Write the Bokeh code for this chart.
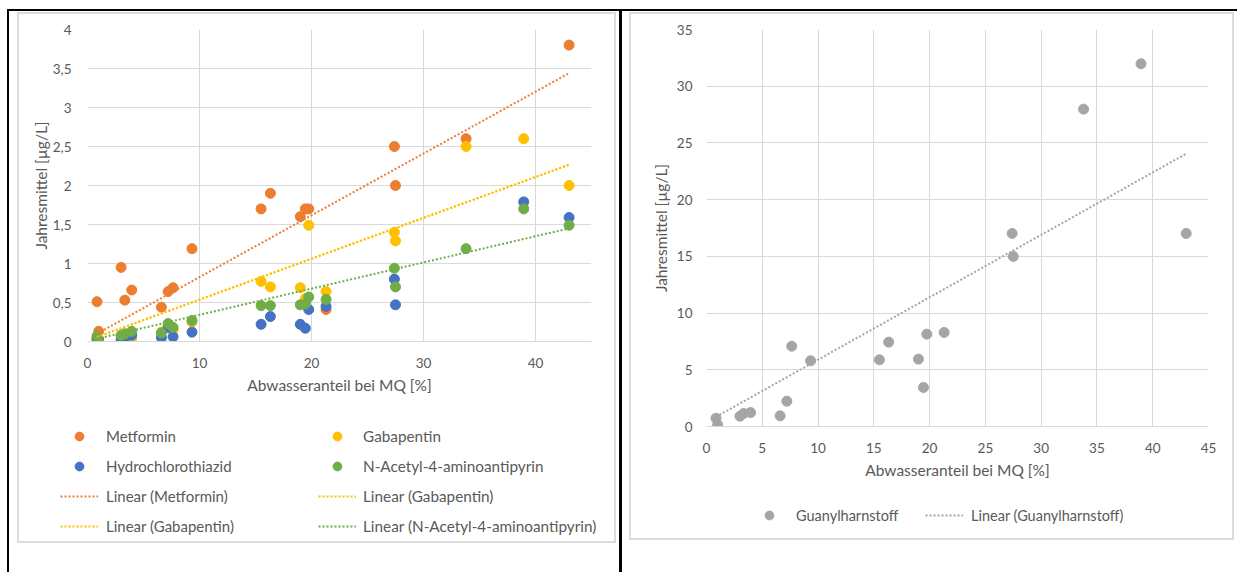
from bokeh.plotting import figure
from bokeh.layouts import row, column
from bokeh.models import (FixedTicker, Legend, LegendItem, Range1d, Spacer,
                          CustomJSTickFormatter)
from bokeh.embed import file_html
from bokeh.resources import INLINE

nan = float("nan")

# ---------------- data ----------------
abwasseranteil = [0.85, 1.0, 3.0, 3.33, 3.95, 6.6, 7.2, 7.64, 9.33, 15.5,
                  16.33, 19.0, 19.45, 19.75, 21.3, 27.4, 27.5, 33.8, 38.95, 43.0]
metformin = [0.51, 0.13, 0.95, 0.53, 0.66, 0.44, 0.64, 0.69, 1.19, 1.70,
             1.90, 1.60, 1.70, 1.70, 0.41, 2.50, 2.00, 2.60, nan, 3.80]
gabapentin = [0.05, 0.03, 0.07, 0.09, 0.04, 0.12, 0.20, 0.15, 0.25, 0.77,
              0.70, 0.69, 0.55, 1.49, 0.64, 1.40, 1.29, 2.50, 2.60, 2.00]
hydrochlorothiazid = [0.03, 0.02, 0.02, 0.05, 0.08, 0.05, 0.18, 0.06, 0.12, 0.22,
                      0.32, 0.22, 0.17, 0.41, 0.45, 0.80, 0.47, nan, 1.79, 1.59]
acetyl_aminoantipyrin = [0.07, 0.00, 0.08, 0.10, 0.13, 0.11, 0.23, 0.18, 0.27, 0.46,
                         0.46, 0.47, 0.48, 0.57, 0.54, 0.94, 0.70, 1.19, 1.70, 1.49]
guanylharnstoff = [0.73, 0.15, 0.91, 1.15, 1.23, 0.94, 2.23, 7.08, 5.79, 5.88,
                   7.44, 5.94, 3.44, 8.14, 8.29, 17.02, 14.99, 27.98, 31.98, 17.02]

# linear trend lines: y at the first and last x
trend_x = [min(abwasseranteil), max(abwasseranteil)]
metformin_trend = [0.10, 3.44]
gabapentin_trend = [0.057, 2.266]
acetyl_trend = [0.035, 1.45]
guanyl_trend = [0.85, 24.05]

left_x_ticks = [0, 10, 20, 30, 40]
left_y_ticks = [0, 0.5, 1, 1.5, 2, 2.5, 3, 3.5, 4]
right_x_ticks = [0, 5, 10, 15, 20, 25, 30, 35, 40, 45]
right_y_ticks = [0, 5, 10, 15, 20, 25, 30, 35]

x_title = "Abwasseranteil bei MQ [%]"
y_title = "Jahresmittel [µg/L]"

ORANGE = "#ED7D31"
YELLOW = "#FFC000"
BLUE = "#4472C4"
GREEN = "#70AD47"
GRAY = "#A5A5A5"
TXT = "#595959"
GRID = "#D9D9D9"
BORDER = "#DCDCDC"
FONT = "Lato"
DOT = "2 2"


def style(p, xticks, yticks, ylabel_standoff, ytick_standoff):
    p.background_fill_color = "white"
    p.border_fill_color = "white"
    p.outline_line_color = None
    p.xaxis.ticker = FixedTicker(ticks=xticks)
    p.yaxis.ticker = FixedTicker(ticks=yticks)
    for g in (p.xgrid, p.ygrid):
        g.grid_line_color = GRID
        g.grid_line_width = 1
    for ax in (p.xaxis, p.yaxis):
        ax.major_tick_line_color = None
        ax.minor_tick_line_color = None
        ax.major_tick_out = 0
        ax.major_tick_in = 0
        ax.major_label_text_color = TXT
        ax.major_label_text_font = FONT
        ax.major_label_text_font_size = "13.5px"
        ax.axis_label_text_color = TXT
        ax.axis_label_text_font = FONT
        ax.axis_label_text_font_size = "15.5px"
        ax.axis_label_text_font_style = "normal"
    p.xaxis.axis_line_color = GRID
    p.yaxis.axis_line_color = None
    p.xaxis.major_label_standoff = 16
    p.xaxis.axis_label_standoff = 5
    p.yaxis.major_label_standoff = ytick_standoff
    p.yaxis.axis_label_standoff = ylabel_standoff


def legend_figure(w, h):
    q = figure(width=w, height=h, x_range=Range1d(-1000, -999), y_range=Range1d(-1000, -999),
               output_backend="svg", toolbar_location=None,
               x_axis_type=None, y_axis_type=None,
               min_border_left=0, min_border_right=0, min_border_top=0, min_border_bottom=0)
    q.outline_line_color = None
    q.background_fill_color = "white"
    q.border_fill_color = "white"
    q.xgrid.visible = False
    q.ygrid.visible = False
    return q


def add_legend(q, items, x, y, standoff, size):
    q.add_layout(Legend(items=items, location=(x, y), orientation="vertical",
                        glyph_width=38, glyph_height=22, label_height=20,
                        label_standoff=standoff, spacing=8, padding=0, margin=0,
                        border_line_color=None, background_fill_alpha=0,
                        label_text_font=FONT, label_text_font_size=size,
                        label_text_color=TXT))


def fill(w, h, color):
    return Spacer(width=w, height=h, styles={"background-color": color})


def blank(w, h):
    return Spacer(width=w, height=h)


def framed(w, h, top, bottom):
    # light grey chart-area border around the chart and its legend strip
    return row(fill(2, h, BORDER),
               column(fill(w - 4, 2, BORDER), top, row(bottom, spacing=0),
                      fill(w - 4, 2, BORDER), spacing=0),
               fill(2, h, BORDER), spacing=0)


# ---------------- left chart ----------------
L = figure(width=595, height=390, x_range=Range1d(0, 45), y_range=Range1d(0, 4),
           output_backend="svg", toolbar_location=None,
           min_border_left=68, min_border_right=23, min_border_top=15, min_border_bottom=63,
           x_axis_label=x_title, y_axis_label=y_title)
style(L, left_x_ticks, left_y_ticks, 0, 16)
L.yaxis.formatter = CustomJSTickFormatter(code="return String(tick).replace('.', ',');")

L.scatter(abwasseranteil, metformin, size=10, color=ORANGE)
L.scatter(abwasseranteil, gabapentin, size=10, color=YELLOW)
L.scatter(abwasseranteil, hydrochlorothiazid, size=10, color=BLUE)
L.scatter(abwasseranteil, acetyl_aminoantipyrin, size=10, color=GREEN)
L.line(trend_x, metformin_trend, line_color=ORANGE, line_width=2, line_dash=DOT)
L.line(trend_x, gabapentin_trend, line_color=YELLOW, line_width=2, line_dash=DOT)
L.line(trend_x, gabapentin_trend, line_color=YELLOW, line_width=2, line_dash=DOT)
L.line(trend_x, acetyl_trend, line_color=GREEN, line_width=2, line_dash=DOT)

# legend strip of the left chart (keys repeat the series, kept out of view)
LL = legend_figure(595, 137)
k_met = LL.scatter(abwasseranteil, metformin, size=10, color=ORANGE)
k_gab = LL.scatter(abwasseranteil, gabapentin, size=10, color=YELLOW)
k_hyd = LL.scatter(abwasseranteil, hydrochlorothiazid, size=10, color=BLUE)
k_ace = LL.scatter(abwasseranteil, acetyl_aminoantipyrin, size=10, color=GREEN)
k_tmet = LL.line(trend_x, metformin_trend, line_color=ORANGE, line_width=2, line_dash=DOT)
k_tgab = LL.line(trend_x, gabapentin_trend, line_color=YELLOW, line_width=2, line_dash=DOT)
k_tace = LL.line(trend_x, acetyl_trend, line_color=GREEN, line_width=2, line_dash=DOT)
add_legend(LL, [LegendItem(label="Metformin", renderers=[k_met]),
                LegendItem(label="Hydrochlorothiazid", renderers=[k_hyd]),
                LegendItem(label="Linear (Metformin)", renderers=[k_tmet]),
                LegendItem(label="Linear (Gabapentin)", renderers=[k_tgab])], 41, 4, 8, "15px")
add_legend(LL, [LegendItem(label="Gabapentin", renderers=[k_gab]),
                LegendItem(label="N-Acetyl-4-aminoantipyrin", renderers=[k_ace]),
                LegendItem(label="Linear (Gabapentin)", renderers=[k_tgab]),
                LegendItem(label="Linear (N-Acetyl-4-aminoantipyrin)", renderers=[k_tace])],
           299, 4, 7, "15.3px")

# ---------------- right chart ----------------
R = figure(width=601, height=475, x_range=Range1d(0, 45), y_range=Range1d(0, 35),
           output_backend="svg", toolbar_location=None,
           min_border_left=75, min_border_right=24, min_border_top=15, min_border_bottom=63,
           x_axis_label=x_title, y_axis_label=y_title)
style(R, right_x_ticks, right_y_ticks, 4, 14)

R.scatter(abwasseranteil, guanylharnstoff, size=10, color=GRAY)
R.line(trend_x, guanyl_trend, line_color=GRAY, line_width=2, line_dash=DOT)

RL = legend_figure(601, 49)
k_gua = RL.scatter(abwasseranteil, guanylharnstoff, size=10, color=GRAY)
k_tgua = RL.line(trend_x, guanyl_trend, line_color=GRAY, line_width=2, line_dash=DOT)
add_legend(RL, [LegendItem(label="Guanylharnstoff", renderers=[k_gua])], 119, 12, 8, "14.5px")
add_legend(RL, [LegendItem(label="Linear (Guanylharnstoff)", renderers=[k_tgua])], 294, 12, 8, "14.5px")

# ---------------- page frame ----------------
inner = row(
    blank(8, 561),
    column(blank(599, 1), framed(599, 531, L, LL), spacing=0),
    blank(3, 561),
    fill(3, 561, "black"),
    blank(7, 561),
    column(blank(605, 1), framed(605, 528, R, RL), spacing=0),
    spacing=0,
)
page = column(
    blank(1237, 9),
    row(blank(7, 563), fill(2, 563, "black"),
        column(fill(1228, 2, "black"), inner, spacing=0), spacing=0),
    spacing=0,
)

open("out.html", "w").write(file_html(page, INLINE))
